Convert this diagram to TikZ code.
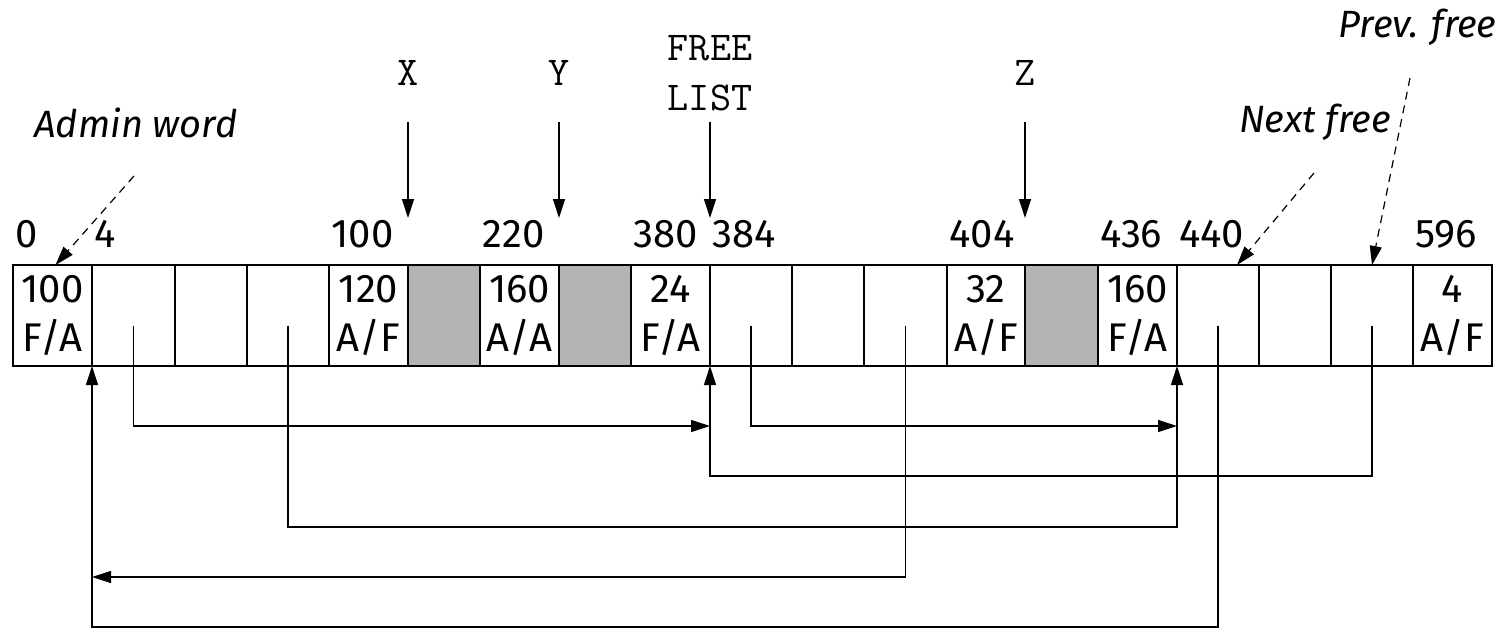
\documentclass[tikz,border=0pt]{standalone}
\usepackage{fontspec}
\setmainfont{Fira Sans}
\usetikzlibrary{arrows.meta}
\definecolor{blockgray}{RGB}{179,179,179}
\tikzset{
  cell/.style={draw, line width=0.7pt, inner sep=0pt, outer sep=0pt,
    minimum height=50.5pt, align=center, font=\fontsize{20}{24.5}\selectfont},
  addr/.style={anchor=base west, inner sep=1pt, font=\fontsize{20}{23}\selectfont},
  ptr/.style={inner sep=0pt, align=center, font=\fontsize{20.5}{25}\ttfamily},
  note/.style={inner sep=0pt, font=\fontsize{19}{23}\itshape},
  link/.style={line width=0.6pt, -{Triangle[length=9.5pt,width=6pt]}},
  hint/.style={link, dash pattern=on 4pt off 3pt},
}
\begin{document}
\begin{tikzpicture}[x=0.5pt, y=-0.5pt]
  \useasboundingbox (0,0) rectangle (1504,628);
  % the heap words
  \foreach \i/\a/\b/\fil/\txt in {1/13/92/white/{100\\F/A}, 2/92/175/white/{},
      3/175/247/white/{}, 4/247/329/white/{}, 5/329/408/white/{120\\A/F},
      6/408/480/blockgray/{}, 7/480/559/white/{160\\A/A}, 8/559/631/blockgray/{},
      9/631/710/white/{24\\F/A}, 10/710/792/white/{}, 11/792/864/white/{},
      12/864/947/white/{}, 13/947/1025/white/{32\\A/F}, 14/1025/1098/blockgray/{},
      15/1098/1177/white/{160\\F/A}, 16/1177/1259/white/{}, 17/1259/1331/white/{},
      18/1331/1413/white/{}, 19/1413/1492/white/{4\\A/F}}
    \node[cell, fill=\fil, minimum width={(\b-\a)*0.5pt}] (c\i)
      at ({(\a+\b)/2},315.5) {\txt};
  % addresses
  \foreach \i/\v in {1/0, 2/4, 5/100, 7/220, 9/380, 10/384, 13/404, 15/436, 16/440, 19/596}
    \node[addr] (a\v) at ([yshift=9pt]c\i.north west) {\v};
  % pointers from above
  \coordinate (ptrtop) at (0,122);
  \coordinate (ptrtip) at (0,218);
  \node[ptr] (X) at (408,73) {X};
  \node[ptr] (Y) at (559,73) {Y};
  \node[ptr] (FL) at (710,73) {FREE\\LIST};
  \node[ptr] (Z) at (1025,73) {Z};
  \foreach \p in {X,Y,FL,Z}
    \draw[link] (\p |- ptrtop) -- (\p |- ptrtip);
  % notes
  \node[note] (adm) at (136,123) {Admin word};
  \node[note] (nxt) at (1315,122) {Next free};
  \node[note, anchor=east] (prv) at (1497,27) {Prev. free};
  \coordinate (admtail) at (134,176);
  \coordinate (nxttail) at (1314,173);
  \coordinate (prvtail) at (1410,78);
  \draw[hint] (admtail) -- ([xshift=1.5pt]c1.north);
  \draw[hint] (nxttail) -- ([xshift=9.5pt]c16.north);
  \draw[hint] (prvtail) -- (c18.north);
  % free list links
  \coordinate (r1) at (0,426);
  \coordinate (r2) at (0,476);
  \coordinate (r3) at (0,527);
  \coordinate (r4) at (0,577);
  \coordinate (r5) at (0,627);
  \draw[link] ([yshift=-5pt]c2.center) |- (c9.south east |- r1);
  \draw[link] ([yshift=-5pt]c10.center) |- (c15.south east |- r1);
  \draw[link] ([yshift=-5pt]c18.center) |- (c9.south east |- r2) -- (c9.south east);
  \draw[link] ([yshift=-5pt]c4.center) |- (c15.south east |- r3) -- (c15.south east);
  \draw[link] ([yshift=-5pt]c12.center) |- (c1.south east |- r4);
  \draw[link] ([yshift=-5pt]c16.center) |- (c1.south east |- r5) -- (c1.south east);
\end{tikzpicture}
\end{document}
